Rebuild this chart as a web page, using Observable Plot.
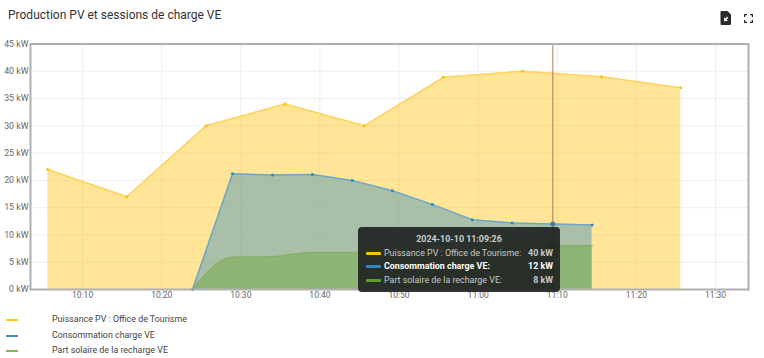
<!DOCTYPE html>
<html><head><meta charset="utf-8">
<script src="https://cdn.jsdelivr.net/npm/d3@7"></script>
<script src="https://cdn.jsdelivr.net/npm/@observablehq/plot@0.6"></script>
<style>
html,body{margin:0;padding:0;background:#fff;width:764px;height:358px;overflow:hidden;font-family:Roboto,sans-serif}
#wrap{position:relative;width:764px;height:358px}
#title{position:absolute;left:8px;top:7px;font-size:12px;line-height:17px;color:#333}
#chart{position:absolute;left:0;top:35px}
#chart svg{display:block;background:transparent}
.lg{position:absolute;left:0;font-size:8.9px;line-height:12px;color:#444;white-space:nowrap}
.lg i{position:absolute;left:6px;top:6px;width:12px;height:2px}
.lg span{position:absolute;left:52px;top:0}
#tip{position:absolute;left:358px;top:227px;width:202px;height:65px;border-radius:4px;background:rgba(32,36,34,.92);color:#c8c8c8;font-size:8.9px;box-sizing:border-box}
#tip .h{position:absolute;top:6px;left:0;width:100%;text-align:center;font-weight:700;color:#ccc;line-height:13px}
#tip .r{position:absolute;left:8px;right:7px;height:13px;line-height:13px;white-space:nowrap}
#tip .r i{position:absolute;left:0;top:5px;width:15px;height:3px;border-radius:1px}
#tip .r span{position:absolute;left:18px}
#tip .r b{position:absolute;right:0}
</style></head>
<body><div id="wrap">
<div id="title">Production PV et sessions de charge VE</div>
<svg style="position:absolute;left:720px;top:11px" width="12" height="14" viewBox="0 0 12 14"><path d="M1.5 0H7.5L11 3.5V13a1 1 0 0 1-1 1H1.5a1 1 0 0 1-1-1V1a1 1 0 0 1 1-1Z" fill="#2b2b2b"/><path d="M7 5.5 8.3 6.8 6.6 8.5 8 9.9 4 10.2 4.3 6.2 5.7 7.6Z" fill="#fff"/></svg>
<svg style="position:absolute;left:744px;top:14px" width="9" height="9" viewBox="0 0 9 9" fill="none" stroke="#2b2b2b" stroke-width="1.2"><path d="M.6 3V.6H3M6 .6H8.4V3M8.4 6V8.4H6M3 8.4H.6V6"/></svg>
<div id="chart"></div>
<div class="lg" style="top:313px"><i style="background:#ffc727"></i><span>Puissance PV : Office de Tourisme</span></div>
<div class="lg" style="top:328.5px"><i style="background:#3d8fc6"></i><span>Consommation charge VE</span></div>
<div class="lg" style="top:344px"><i style="background:#84b85f"></i><span>Part solaire de la recharge VE</span></div>
<div id="tip">
<div class="h">2024-10-10 11:09:26</div>
<div class="r" style="top:20px"><i style="background:#ffc107"></i><span>Puissance PV : Office de Tourisme:</span><b>40 kW</b></div>
<div class="r" style="top:33px;color:#fff"><i style="background:#2a86c4"></i><span style="font-weight:700">Consommation charge VE:</span><b>12 kW</b></div>
<div class="r" style="top:47px"><i style="background:#5d9e2e"></i><span>Part solaire de la recharge VE:</span><b>8 kW</b></div>
</div>
</div>
<script>
const pvTimes = ["10:05:36","10:15:36","10:25:36","10:35:36","10:45:36","10:55:36","11:05:36","11:15:36","11:25:36"];
const pvValues = [22,17,30,34,30,38.9,40,39,37];
const chargeTimes = ["10:23:54","10:28:57","10:34:00","10:39:03","10:44:06","10:49:09","10:54:12","10:59:15","11:04:18","11:09:21","11:14:24"];
const chargeValues = [0,21.2,21,21.1,20,18.1,15.6,12.8,12.2,12,11.8];
const solarValues = [0,5.9,6,6.8,6.8,6.8,6.9,7.2,7.6,8,8];
const cursorTime = "11:09:26";
const yTicks = [0,5,10,15,20,25,30,35,40,45];
const xTickTimes = ["10:10","10:20","10:30","10:40","10:50","11:00","11:10","11:20","11:30"];
const xDomain = ["10:03:25","11:34:10"];

const T = s => new Date("2024-10-10T" + (s.length === 5 ? s + ":00" : s) + "Z");
const pv = pvTimes.map((t,i)=>({t:T(t),v:pvValues[i]}));
const charge = chargeTimes.map((t,i)=>({t:T(t),v:chargeValues[i]}));
const solar = chargeTimes.map((t,i)=>({t:T(t),v:solarValues[i]}));
const cursor = T(cursorTime);

const plot = Plot.plot({
  width:764, height:270,
  marginLeft:30, marginRight:16, marginTop:8.5, marginBottom:16,
  style:{fontFamily:"Roboto, sans-serif", background:"transparent"},
  x:{type:"utc", domain:xDomain.map(T)},
  y:{domain:[0,45]},
  marks:[
    Plot.gridY(yTicks,{stroke:"#eeeeee",strokeOpacity:1,strokeWidth:1}),
    Plot.gridX(xTickTimes.map(T),{stroke:"#eeeeee",strokeOpacity:1,strokeWidth:1}),
    Plot.areaY(pv,{x:"t",y:"v",fill:"#ffc107",fillOpacity:0.42}),
    Plot.areaY(charge,{x:"t",y:"v",fill:"#2a86c4",fillOpacity:0.4}),
    Plot.areaY(solar,{x:"t",y:"v",fill:"#6aa82f",fillOpacity:0.42,curve:"monotone-x"}),
    Plot.lineY(pv,{x:"t",y:"v",stroke:"#ffd35c",strokeWidth:1.5}),
    Plot.lineY(charge,{x:"t",y:"v",stroke:"#6ba8c8",strokeWidth:1.5}),
    Plot.lineY(solar,{x:"t",y:"v",stroke:"#86b068",strokeWidth:1.5,curve:"monotone-x"}),
    Plot.dot(pv,{x:"t",y:"v",r:1.5,fill:"#ffc107"}),
    Plot.dot(charge,{x:"t",y:"v",r:1.5,fill:"#2a86c4"}),
    Plot.dot([{t:cursor,v:8}],{x:"t",y:"v",r:5,fill:"#5d9e2e"}),
    Plot.dot([{t:cursor,v:12}],{x:"t",y:"v",r:2.5,fill:"#2a86c4"}),
    Plot.ruleX([cursor],{stroke:"#a5604f",strokeOpacity:0.85,strokeWidth:1}),
    Plot.frame({stroke:"#b0b0b0",strokeWidth:2}),
    Plot.axisY({ticks:yTicks,tickSize:0,tickPadding:2,tickFormat:d=>d+" kW",fontSize:8.8,color:"#666",label:null}),
    Plot.axisX({ticks:xTickTimes.map(T),tickSize:0,tickPadding:2,tickFormat:d3.utcFormat("%H:%M"),fontSize:8.5,color:"#666",label:null})
  ]
});
document.getElementById("chart").appendChild(plot);
</script>
</body></html>
